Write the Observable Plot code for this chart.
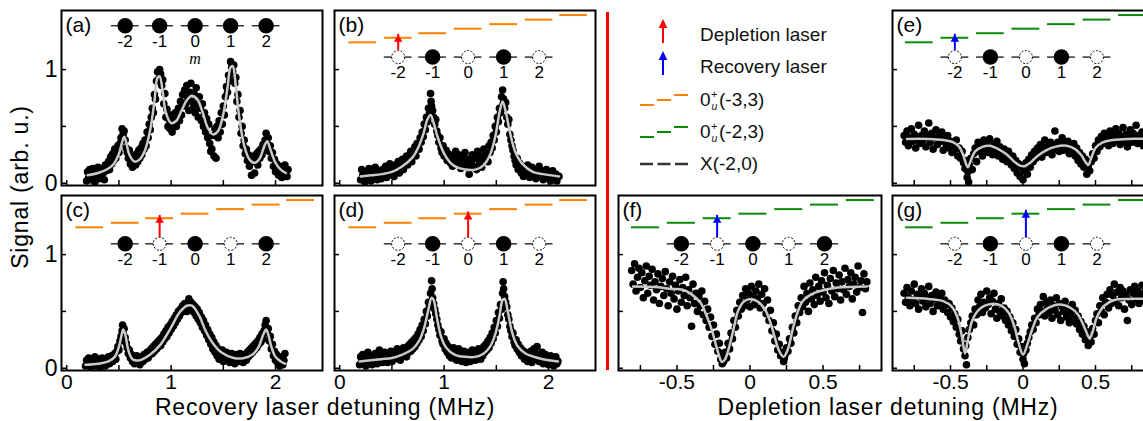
<!DOCTYPE html>
<html><head><meta charset="utf-8">
<script src="https://cdn.jsdelivr.net/npm/d3@7"></script>
<script src="https://cdn.jsdelivr.net/npm/@observablehq/plot@0.6"></script>
<style>
body{margin:0;background:#fff;overflow:hidden;font-family:"Liberation Sans",Arial,sans-serif;}
#root{position:relative;width:1143px;height:421px;overflow:hidden;background:#fff;}
.lbl{position:absolute;font-size:23px;line-height:18px;white-space:nowrap;text-align:center;color:#000;letter-spacing:0.8px;}
.leg{position:absolute;font-size:19px;line-height:19px;white-space:nowrap;color:#111;}
.sup{position:absolute;font-size:11px;line-height:11px;color:#111;}
.sub{position:absolute;font-size:10.5px;line-height:10.5px;font-style:italic;color:#111;}
</style></head><body><div id="root"></div>
<script>
// ---------- data ----------
const sublevels = [-2, -1, 0, 1, 2];
const leftSubX = [0.56, 0.89, 1.23, 1.57, 1.91];
const rightSubX = [-0.47, -0.225, 0.02, 0.265, 0.51];
const leftLevelX = [0.22, 0.56, 0.89, 1.23, 1.57, 1.91, 2.24];
const rightLevelX = [-0.715, -0.47, -0.225, 0.02, 0.265, 0.51, 0.755];
const levelY = [1.24, 1.28, 1.32, 1.36, 1.40, 1.44, 1.48];
const occA = [1,1,1,1,1], occB = [0,1,0,1,0], occC = [1,0,1,0,1], occD = [0,1,0,1,0];
const occE = [0,1,0,1,0], occF = [1,0,1,0,1], occG = [0,1,0,1,0];
const arrowB = [{m:-2, y1:1.17, y2:1.31}], arrowC = [{m:-1, y1:1.15, y2:1.345}], arrowD = [{m:0, y1:1.15, y2:1.375}];
const arrowE = [{m:-2, y1:1.17, y2:1.31}], arrowF = [{m:-1, y1:1.15, y2:1.345}], arrowG = [{m:0, y1:1.15, y2:1.39}];
const mLabelA = [{text:"m", x:1.23, y:1.095}];
const leftXTicks = [0, 0.5, 1, 1.5, 2], rightXTicks = [-0.75, -0.5, -0.25, 0, 0.25, 0.5, 0.75];
const leftXLabels = [0, 1, 2], rightXLabels = [-0.5, 0, 0.5];
const yTicks = [0, 0.5, 1], yLabels = [0, 1];

const fitA = [[0.20,0.07],[0.30,0.09],[0.40,0.13],[0.45,0.17],[0.50,0.26],[0.53,0.36],[0.55,0.41],[0.57,0.36],[0.60,0.25],[0.65,0.19],[0.70,0.21],[0.75,0.29],[0.80,0.47],[0.84,0.72],[0.87,0.93],[0.89,0.94],[0.92,0.80],[0.95,0.62],[1.00,0.53],[1.05,0.55],[1.10,0.64],[1.15,0.73],[1.20,0.77],[1.25,0.74],[1.30,0.63],[1.35,0.49],[1.40,0.43],[1.45,0.46],[1.50,0.61],[1.54,0.84],[1.57,1.02],[1.59,1.03],[1.62,0.85],[1.65,0.60],[1.70,0.33],[1.75,0.21],[1.80,0.18],[1.85,0.22],[1.89,0.32],[1.92,0.37],[1.95,0.30],[2.00,0.18],[2.05,0.12],[2.10,0.09]];
const fitB = [[0.20,0.06],[0.30,0.07],[0.40,0.08],[0.50,0.10],[0.60,0.15],[0.70,0.23],[0.75,0.31],[0.80,0.43],[0.84,0.56],[0.87,0.60],[0.90,0.53],[0.94,0.40],[1.00,0.26],[1.05,0.19],[1.10,0.15],[1.20,0.12],[1.30,0.12],[1.38,0.16],[1.44,0.25],[1.49,0.41],[1.53,0.62],[1.56,0.72],[1.59,0.63],[1.63,0.45],[1.68,0.28],[1.75,0.17],[1.85,0.10],[1.95,0.08],[2.10,0.06]];
const fitC = [[0.18,0.03],[0.30,0.04],[0.40,0.06],[0.46,0.10],[0.50,0.19],[0.53,0.31],[0.54,0.34],[0.56,0.30],[0.59,0.16],[0.63,0.08],[0.70,0.07],[0.80,0.12],[0.90,0.21],[1.00,0.36],[1.08,0.49],[1.15,0.55],[1.20,0.55],[1.27,0.46],[1.33,0.33],[1.40,0.22],[1.48,0.14],[1.60,0.09],[1.70,0.09],[1.78,0.12],[1.84,0.19],[1.88,0.29],[1.91,0.34],[1.93,0.30],[1.96,0.19],[2.00,0.10],[2.05,0.06],[2.09,0.04]];
const fitD = [[0.19,0.06],[0.30,0.07],[0.40,0.08],[0.50,0.09],[0.60,0.12],[0.70,0.17],[0.76,0.24],[0.81,0.36],[0.85,0.52],[0.88,0.62],[0.90,0.60],[0.93,0.45],[0.97,0.28],[1.02,0.18],[1.10,0.12],[1.20,0.10],[1.30,0.10],[1.38,0.13],[1.44,0.19],[1.49,0.30],[1.53,0.46],[1.56,0.60],[1.58,0.61],[1.61,0.50],[1.65,0.32],[1.70,0.20],[1.78,0.13],[1.90,0.09],[2.00,0.07],[2.09,0.06]];
const fitE = [[-0.80,0.39],[-0.65,0.39],[-0.55,0.38],[-0.48,0.36],[-0.44,0.32],[-0.41,0.24],[-0.39,0.16],[-0.38,0.14],[-0.36,0.20],[-0.33,0.28],[-0.28,0.32],[-0.23,0.33],[-0.17,0.30],[-0.11,0.25],[-0.06,0.19],[-0.02,0.155],[0.01,0.15],[0.05,0.18],[0.10,0.24],[0.16,0.29],[0.22,0.32],[0.30,0.33],[0.36,0.30],[0.40,0.25],[0.43,0.19],[0.45,0.16],[0.47,0.22],[0.50,0.31],[0.55,0.36],[0.62,0.38],[0.72,0.39],[0.85,0.39]];
const fitF = [[-0.80,0.72],[-0.65,0.715],[-0.55,0.70],[-0.46,0.69],[-0.40,0.65],[-0.34,0.58],[-0.30,0.47],[-0.26,0.33],[-0.23,0.19],[-0.20,0.07],[-0.19,0.055],[-0.17,0.08],[-0.14,0.20],[-0.11,0.36],[-0.08,0.51],[-0.04,0.59],[0.01,0.61],[0.06,0.58],[0.11,0.50],[0.14,0.40],[0.17,0.27],[0.20,0.15],[0.23,0.10],[0.26,0.17],[0.29,0.33],[0.32,0.47],[0.36,0.59],[0.42,0.65],[0.48,0.68],[0.60,0.71],[0.80,0.72]];
const fitG = [[-0.80,0.62],[-0.65,0.61],[-0.55,0.59],[-0.49,0.54],[-0.45,0.44],[-0.42,0.27],[-0.40,0.13],[-0.38,0.25],[-0.35,0.42],[-0.30,0.52],[-0.22,0.565],[-0.15,0.55],[-0.10,0.49],[-0.06,0.37],[-0.03,0.22],[0.00,0.12],[0.03,0.21],[0.06,0.33],[0.10,0.45],[0.16,0.52],[0.25,0.56],[0.33,0.53],[0.38,0.47],[0.42,0.37],[0.45,0.28],[0.46,0.26],[0.48,0.32],[0.51,0.45],[0.56,0.55],[0.63,0.60],[0.72,0.61],[0.85,0.61]];

const ptsA = [[0.19,0.02],[0.20,0.10],[0.21,0.05],[0.22,0.12],[0.23,0.03],[0.24,0.08],[0.25,0.13],[0.26,0.06],[0.27,0.01],[0.28,0.11],[0.29,0.07],[0.30,0.14],[0.31,0.04],[0.32,0.10],[0.33,0.06],[0.34,0.13],[0.35,0.09],[0.36,0.03],[0.37,0.16],[0.38,0.11],[0.39,0.14],[0.40,0.19],[0.41,0.12],[0.42,0.23],[0.43,0.17],[0.44,0.26],[0.45,0.20],[0.46,0.30],[0.47,0.22],[0.48,0.28],[0.49,0.33],[0.50,0.27],[0.51,0.35],[0.52,0.40],[0.53,0.48],[0.54,0.43],[0.55,0.46],[0.56,0.38],[0.57,0.31],[0.58,0.27],[0.59,0.22],[0.60,0.29],[0.61,0.17],[0.62,0.24],[0.63,0.14],[0.64,0.20],[0.65,0.23],[0.66,0.16],[0.67,0.26],[0.68,0.19],[0.69,0.29],[0.70,0.22],[0.71,0.31],[0.72,0.25],[0.73,0.35],[0.74,0.30],[0.75,0.38],[0.76,0.33],[0.77,0.45],[0.78,0.40],[0.79,0.52],[0.80,0.47],[0.81,0.58],[0.82,0.66],[0.83,0.62],[0.84,0.78],[0.85,0.74],[0.86,0.90],[0.87,0.98],[0.88,0.92],[0.89,1.00],[0.90,0.96],[0.91,0.86],[0.92,0.91],[0.93,0.70],[0.94,0.79],[0.95,0.58],[0.96,0.65],[0.97,0.50],[0.98,0.56],[0.99,0.48],[1.00,0.60],[1.01,0.45],[1.02,0.53],[1.03,0.58],[1.04,0.62],[1.05,0.50],[1.06,0.57],[1.07,0.66],[1.08,0.55],[1.09,0.72],[1.10,0.60],[1.11,0.78],[1.12,0.68],[1.13,0.82],[1.14,0.70],[1.15,0.86],[1.16,0.75],[1.17,0.64],[1.18,0.80],[1.19,0.88],[1.20,0.72],[1.21,0.66],[1.22,0.79],[1.23,0.62],[1.24,0.84],[1.25,0.70],[1.26,0.58],[1.27,0.76],[1.28,0.66],[1.29,0.55],[1.30,0.70],[1.31,0.50],[1.32,0.62],[1.33,0.45],[1.34,0.57],[1.35,0.40],[1.36,0.52],[1.37,0.35],[1.38,0.28],[1.39,0.30],[1.40,0.42],[1.41,0.24],[1.42,0.48],[1.43,0.22],[1.44,0.50],[1.45,0.40],[1.46,0.55],[1.47,0.45],[1.48,0.62],[1.49,0.52],[1.50,0.68],[1.51,0.60],[1.52,0.76],[1.53,0.85],[1.54,0.80],[1.55,0.95],[1.56,0.90],[1.57,1.07],[1.58,1.02],[1.59,0.98],[1.60,1.04],[1.61,0.88],[1.62,0.93],[1.63,0.72],[1.64,0.78],[1.65,0.58],[1.66,0.64],[1.67,0.44],[1.68,0.50],[1.69,0.33],[1.70,0.38],[1.71,0.26],[1.72,0.30],[1.73,0.20],[1.74,0.25],[1.75,0.15],[1.76,0.22],[1.77,0.07],[1.78,0.19],[1.79,0.24],[1.80,0.09],[1.81,0.21],[1.82,0.26],[1.83,0.16],[1.84,0.28],[1.85,0.22],[1.86,0.30],[1.87,0.25],[1.88,0.34],[1.89,0.29],[1.90,0.38],[1.91,0.44],[1.92,0.35],[1.93,0.40],[1.94,0.28],[1.95,0.33],[1.96,0.22],[1.97,0.27],[1.98,0.15],[1.99,0.21],[2.00,0.10],[2.01,0.17],[2.02,0.12],[2.03,0.07],[2.04,0.15],[2.05,0.10],[2.06,0.05],[2.07,0.13],[2.08,0.08],[2.09,0.16],[2.10,0.10],[2.11,0.06],[2.12,0.12]];
const ptsB = [[0.20,0.03],[0.21,0.12],[0.22,0.07],[0.24,0.01],[0.25,0.10],[0.26,0.04],[0.28,0.13],[0.29,0.06],[0.30,0.02],[0.32,0.09],[0.33,0.05],[0.34,0.14],[0.36,0.03],[0.37,0.08],[0.38,0.11],[0.40,0.04],[0.41,0.12],[0.42,0.07],[0.44,0.15],[0.45,0.05],[0.46,0.10],[0.48,0.17],[0.49,0.08],[0.50,0.13],[0.52,0.06],[0.53,0.16],[0.54,0.11],[0.56,0.19],[0.57,0.09],[0.58,0.14],[0.60,0.21],[0.61,0.12],[0.62,0.18],[0.64,0.24],[0.65,0.16],[0.66,0.22],[0.68,0.28],[0.69,0.19],[0.70,0.26],[0.72,0.32],[0.73,0.24],[0.74,0.35],[0.76,0.30],[0.77,0.40],[0.78,0.36],[0.79,0.45],[0.80,0.41],[0.81,0.52],[0.82,0.47],[0.83,0.58],[0.84,0.54],[0.85,0.66],[0.86,0.62],[0.87,0.79],[0.875,0.72],[0.88,0.68],[0.89,0.64],[0.90,0.58],[0.91,0.52],[0.92,0.56],[0.93,0.46],[0.94,0.42],[0.95,0.36],[0.96,0.40],[0.97,0.31],[0.98,0.27],[0.99,0.33],[1.00,0.24],[1.02,0.29],[1.03,0.20],[1.04,0.26],[1.06,0.18],[1.07,0.24],[1.08,0.15],[1.10,0.22],[1.11,0.28],[1.12,0.17],[1.14,0.25],[1.15,0.19],[1.16,0.13],[1.18,0.23],[1.19,0.17],[1.20,0.27],[1.22,0.14],[1.23,0.21],[1.24,0.08],[1.26,0.19],[1.27,0.25],[1.28,0.15],[1.30,0.22],[1.31,0.12],[1.32,0.28],[1.34,0.18],[1.35,0.24],[1.36,0.14],[1.38,0.30],[1.39,0.21],[1.40,0.26],[1.42,0.19],[1.43,0.33],[1.44,0.27],[1.45,0.36],[1.46,0.31],[1.47,0.42],[1.48,0.38],[1.49,0.50],[1.50,0.45],[1.51,0.58],[1.52,0.54],[1.53,0.66],[1.54,0.62],[1.55,0.76],[1.56,0.82],[1.565,0.70],[1.57,0.74],[1.58,0.66],[1.59,0.71],[1.60,0.58],[1.61,0.52],[1.62,0.56],[1.63,0.43],[1.64,0.38],[1.65,0.33],[1.66,0.29],[1.67,0.24],[1.68,0.20],[1.69,0.16],[1.70,0.22],[1.71,0.12],[1.72,0.18],[1.74,0.09],[1.75,0.15],[1.76,0.06],[1.78,0.13],[1.79,0.08],[1.80,0.16],[1.82,0.05],[1.83,0.11],[1.84,0.14],[1.86,0.07],[1.87,0.12],[1.88,0.04],[1.90,0.10],[1.91,0.15],[1.92,0.06],[1.94,0.11],[1.95,0.03],[1.96,0.08],[1.98,0.12],[1.99,0.05],[2.00,0.09],[2.02,0.02],[2.03,0.07],[2.04,0.11],[2.06,0.04],[2.07,0.08],[2.08,0.02],[2.10,0.06]];
const ptsC = [[0.18,0.02],[0.19,0.07],[0.20,0.04],[0.21,0.09],[0.22,0.05],[0.23,0.01],[0.24,0.08],[0.25,0.03],[0.26,0.06],[0.27,0.10],[0.28,0.02],[0.29,0.07],[0.30,0.04],[0.31,0.08],[0.32,0.01],[0.33,0.05],[0.34,0.09],[0.35,0.03],[0.36,0.06],[0.37,0.02],[0.38,0.08],[0.39,0.05],[0.40,0.10],[0.41,0.04],[0.42,0.07],[0.43,0.11],[0.44,0.06],[0.45,0.09],[0.46,0.13],[0.47,0.08],[0.48,0.15],[0.49,0.19],[0.50,0.16],[0.51,0.24],[0.52,0.28],[0.53,0.33],[0.535,0.38],[0.54,0.30],[0.55,0.35],[0.56,0.27],[0.57,0.22],[0.58,0.18],[0.59,0.13],[0.60,0.16],[0.61,0.09],[0.62,0.12],[0.63,0.06],[0.64,0.10],[0.65,0.04],[0.66,0.08],[0.67,0.11],[0.68,0.05],[0.69,0.09],[0.70,0.03],[0.71,0.07],[0.72,0.10],[0.73,0.06],[0.74,0.12],[0.75,0.08],[0.76,0.11],[0.77,0.14],[0.78,0.09],[0.79,0.15],[0.80,0.12],[0.81,0.17],[0.82,0.13],[0.83,0.19],[0.84,0.15],[0.85,0.21],[0.86,0.17],[0.87,0.23],[0.88,0.19],[0.89,0.25],[0.90,0.20],[0.91,0.27],[0.92,0.23],[0.93,0.30],[0.94,0.26],[0.95,0.33],[0.96,0.28],[0.97,0.36],[0.98,0.31],[0.99,0.38],[1.00,0.34],[1.01,0.41],[1.02,0.37],[1.03,0.44],[1.04,0.40],[1.05,0.47],[1.06,0.43],[1.07,0.50],[1.08,0.46],[1.09,0.52],[1.10,0.49],[1.11,0.55],[1.12,0.51],[1.13,0.57],[1.14,0.53],[1.15,0.50],[1.16,0.56],[1.17,0.61],[1.18,0.54],[1.19,0.58],[1.20,0.51],[1.21,0.56],[1.22,0.49],[1.23,0.54],[1.24,0.46],[1.25,0.52],[1.26,0.43],[1.27,0.49],[1.28,0.40],[1.29,0.45],[1.30,0.36],[1.31,0.42],[1.32,0.33],[1.33,0.38],[1.34,0.29],[1.35,0.34],[1.36,0.25],[1.37,0.30],[1.38,0.21],[1.39,0.27],[1.40,0.17],[1.41,0.23],[1.42,0.14],[1.43,0.20],[1.44,0.11],[1.45,0.17],[1.46,0.08],[1.47,0.14],[1.48,0.10],[1.49,0.16],[1.50,0.06],[1.51,0.12],[1.52,0.09],[1.53,0.14],[1.54,0.07],[1.55,0.11],[1.56,0.05],[1.57,0.10],[1.58,0.13],[1.59,0.07],[1.60,0.11],[1.61,0.04],[1.62,0.09],[1.63,0.12],[1.64,0.06],[1.65,0.10],[1.66,0.13],[1.67,0.07],[1.68,0.11],[1.69,0.05],[1.70,0.09],[1.71,0.12],[1.72,0.07],[1.73,0.14],[1.74,0.10],[1.75,0.16],[1.76,0.12],[1.77,0.18],[1.78,0.14],[1.79,0.20],[1.80,0.16],[1.81,0.22],[1.82,0.18],[1.83,0.24],[1.84,0.21],[1.85,0.27],[1.86,0.23],[1.87,0.30],[1.88,0.26],[1.89,0.33],[1.90,0.38],[1.91,0.42],[1.92,0.31],[1.93,0.35],[1.94,0.24],[1.95,0.28],[1.96,0.17],[1.97,0.21],[1.98,0.11],[1.99,0.15],[2.00,0.07],[2.01,0.12],[2.02,0.05],[2.03,0.09],[2.04,0.02],[2.05,0.06],[2.06,0.10],[2.07,0.03],[2.08,0.07],[2.09,0.13]];
const ptsD = [[0.19,0.03],[0.20,0.10],[0.21,0.06],[0.22,0.12],[0.23,0.04],[0.24,0.08],[0.25,0.02],[0.26,0.09],[0.27,0.14],[0.28,0.05],[0.29,0.11],[0.30,0.07],[0.31,0.03],[0.32,0.10],[0.33,0.06],[0.34,0.13],[0.35,0.08],[0.36,0.04],[0.37,0.11],[0.38,0.16],[0.39,0.07],[0.40,0.12],[0.41,0.05],[0.42,0.09],[0.43,0.14],[0.44,0.08],[0.45,0.11],[0.46,0.05],[0.47,0.13],[0.48,0.09],[0.49,0.15],[0.50,0.06],[0.51,0.12],[0.52,0.08],[0.53,0.14],[0.54,0.10],[0.55,0.17],[0.56,0.09],[0.57,0.13],[0.58,0.07],[0.59,0.15],[0.60,0.11],[0.61,0.18],[0.62,0.12],[0.63,0.16],[0.64,0.10],[0.65,0.19],[0.66,0.14],[0.67,0.21],[0.68,0.15],[0.69,0.23],[0.70,0.17],[0.71,0.25],[0.72,0.19],[0.73,0.27],[0.74,0.22],[0.75,0.30],[0.76,0.25],[0.77,0.34],[0.78,0.28],[0.79,0.38],[0.80,0.33],[0.81,0.43],[0.82,0.39],[0.83,0.50],[0.84,0.46],[0.85,0.58],[0.86,0.54],[0.87,0.66],[0.88,0.77],[0.885,0.70],[0.89,0.62],[0.90,0.57],[0.91,0.52],[0.92,0.48],[0.93,0.43],[0.94,0.38],[0.95,0.34],[0.96,0.29],[0.97,0.32],[0.98,0.24],[0.99,0.21],[1.00,0.26],[1.01,0.17],[1.02,0.22],[1.03,0.14],[1.04,0.19],[1.05,0.11],[1.06,0.16],[1.07,0.09],[1.08,0.14],[1.09,0.18],[1.10,0.10],[1.11,0.15],[1.12,0.07],[1.13,0.12],[1.14,0.17],[1.15,0.08],[1.16,0.13],[1.17,0.06],[1.18,0.11],[1.19,0.15],[1.20,0.09],[1.21,0.05],[1.22,0.12],[1.23,0.08],[1.24,0.14],[1.25,0.06],[1.26,0.11],[1.27,0.16],[1.28,0.09],[1.29,0.13],[1.30,0.07],[1.31,0.15],[1.32,0.10],[1.33,0.17],[1.34,0.12],[1.35,0.08],[1.36,0.16],[1.37,0.11],[1.38,0.19],[1.39,0.14],[1.40,0.21],[1.41,0.16],[1.42,0.24],[1.43,0.18],[1.44,0.27],[1.45,0.22],[1.46,0.31],[1.47,0.26],[1.48,0.36],[1.49,0.31],[1.50,0.42],[1.51,0.37],[1.52,0.49],[1.53,0.44],[1.54,0.56],[1.55,0.52],[1.56,0.66],[1.565,0.76],[1.57,0.70],[1.58,0.63],[1.59,0.58],[1.60,0.54],[1.61,0.47],[1.62,0.43],[1.63,0.37],[1.64,0.33],[1.65,0.28],[1.66,0.31],[1.67,0.23],[1.68,0.20],[1.69,0.25],[1.70,0.17],[1.71,0.21],[1.72,0.14],[1.73,0.18],[1.74,0.11],[1.75,0.16],[1.76,0.12],[1.77,0.08],[1.78,0.14],[1.79,0.10],[1.80,0.06],[1.81,0.13],[1.82,0.09],[1.83,0.15],[1.84,0.05],[1.85,0.11],[1.86,0.17],[1.87,0.08],[1.88,0.13],[1.89,0.19],[1.90,0.10],[1.91,0.06],[1.92,0.12],[1.93,0.08],[1.94,0.14],[1.95,0.04],[1.96,0.09],[1.97,0.12],[1.98,0.06],[1.99,0.10],[2.00,0.03],[2.01,0.08],[2.02,0.11],[2.03,0.05],[2.04,0.09],[2.05,0.02],[2.06,0.07],[2.07,0.10],[2.08,0.04],[2.09,0.06]];
const ptsE = [[-0.82,0.42],[-0.81,0.36],[-0.80,0.46],[-0.79,0.33],[-0.78,0.40],[-0.77,0.48],[-0.76,0.37],[-0.75,0.43],[-0.74,0.31],[-0.73,0.39],[-0.72,0.51],[-0.71,0.35],[-0.70,0.42],[-0.69,0.38],[-0.68,0.46],[-0.67,0.32],[-0.66,0.41],[-0.65,0.53],[-0.64,0.36],[-0.63,0.44],[-0.62,0.30],[-0.61,0.40],[-0.60,0.47],[-0.59,0.34],[-0.58,0.42],[-0.57,0.37],[-0.56,0.45],[-0.55,0.29],[-0.54,0.39],[-0.53,0.34],[-0.52,0.42],[-0.51,0.31],[-0.50,0.37],[-0.49,0.27],[-0.48,0.35],[-0.47,0.30],[-0.46,0.38],[-0.45,0.24],[-0.44,0.31],[-0.43,0.22],[-0.42,0.28],[-0.41,0.18],[-0.40,0.13],[-0.39,0.20],[-0.385,0.05],[-0.38,0.10],[-0.375,0.01],[-0.37,0.16],[-0.36,0.22],[-0.35,0.12],[-0.34,0.26],[-0.33,0.31],[-0.32,0.19],[-0.31,0.36],[-0.30,0.28],[-0.29,0.33],[-0.28,0.24],[-0.27,0.38],[-0.26,0.30],[-0.25,0.35],[-0.24,0.27],[-0.23,0.39],[-0.22,0.31],[-0.21,0.25],[-0.20,0.34],[-0.19,0.29],[-0.18,0.37],[-0.17,0.24],[-0.16,0.32],[-0.15,0.27],[-0.14,0.21],[-0.13,0.30],[-0.12,0.25],[-0.11,0.19],[-0.10,0.28],[-0.09,0.22],[-0.08,0.16],[-0.07,0.24],[-0.06,0.13],[-0.05,0.20],[-0.04,0.09],[-0.03,0.17],[-0.02,0.06],[-0.01,0.14],[0.00,0.03],[0.01,0.11],[0.02,0.18],[0.03,0.08],[0.04,0.21],[0.05,0.14],[0.06,0.25],[0.07,0.19],[0.08,0.28],[0.09,0.22],[0.10,0.31],[0.11,0.26],[0.12,0.34],[0.13,0.23],[0.14,0.30],[0.15,0.38],[0.16,0.27],[0.17,0.33],[0.18,0.29],[0.19,0.36],[0.20,0.25],[0.21,0.32],[0.22,0.46],[0.23,0.30],[0.24,0.36],[0.25,0.28],[0.26,0.34],[0.27,0.40],[0.28,0.29],[0.29,0.35],[0.30,0.31],[0.31,0.37],[0.32,0.26],[0.33,0.33],[0.34,0.28],[0.35,0.35],[0.36,0.24],[0.37,0.31],[0.38,0.20],[0.39,0.27],[0.40,0.17],[0.41,0.24],[0.42,0.14],[0.43,0.21],[0.44,0.08],[0.45,0.15],[0.46,0.11],[0.47,0.19],[0.48,0.26],[0.49,0.22],[0.50,0.33],[0.51,0.28],[0.52,0.38],[0.53,0.32],[0.54,0.41],[0.55,0.35],[0.56,0.44],[0.57,0.37],[0.58,0.42],[0.59,0.33],[0.60,0.46],[0.61,0.39],[0.62,0.35],[0.63,0.43],[0.64,0.48],[0.65,0.38],[0.66,0.44],[0.67,0.34],[0.68,0.41],[0.69,0.49],[0.70,0.37],[0.71,0.43],[0.72,0.32],[0.73,0.40],[0.74,0.47],[0.75,0.36],[0.76,0.44],[0.77,0.39],[0.78,0.51],[0.79,0.35],[0.80,0.42],[0.81,0.38],[0.82,0.45],[0.83,0.33],[0.84,0.41],[0.85,0.47]];
const ptsF = [[-0.81,0.86],[-0.80,0.74],[-0.79,0.92],[-0.78,0.68],[-0.77,0.80],[-0.76,0.88],[-0.75,0.71],[-0.74,0.84],[-0.73,0.62],[-0.72,0.77],[-0.71,0.90],[-0.70,0.66],[-0.69,0.81],[-0.68,0.73],[-0.67,0.87],[-0.66,0.60],[-0.65,0.76],[-0.64,0.69],[-0.63,0.83],[-0.62,0.57],[-0.61,0.72],[-0.60,0.79],[-0.59,0.64],[-0.58,0.85],[-0.57,0.70],[-0.56,0.55],[-0.55,0.76],[-0.54,0.66],[-0.53,0.81],[-0.52,0.61],[-0.51,0.73],[-0.50,0.52],[-0.49,0.68],[-0.48,0.78],[-0.47,0.58],[-0.46,0.71],[-0.45,0.64],[-0.44,0.80],[-0.43,0.55],[-0.42,0.69],[-0.41,0.62],[-0.40,0.37],[-0.39,0.74],[-0.38,0.57],[-0.37,0.66],[-0.36,0.50],[-0.35,0.63],[-0.34,0.55],[-0.33,0.68],[-0.32,0.47],[-0.31,0.59],[-0.30,0.42],[-0.29,0.52],[-0.28,0.36],[-0.27,0.45],[-0.26,0.28],[-0.25,0.38],[-0.24,0.21],[-0.23,0.30],[-0.22,0.15],[-0.21,0.22],[-0.20,0.08],[-0.195,0.13],[-0.19,0.04],[-0.185,0.10],[-0.18,0.06],[-0.17,0.14],[-0.16,0.09],[-0.15,0.22],[-0.14,0.17],[-0.13,0.31],[-0.12,0.26],[-0.11,0.42],[-0.10,0.36],[-0.09,0.51],[-0.08,0.46],[-0.07,0.58],[-0.06,0.52],[-0.05,0.64],[-0.04,0.55],[-0.03,0.70],[-0.02,0.60],[-0.01,0.66],[0.00,0.54],[0.01,0.72],[0.02,0.63],[0.03,0.56],[0.04,0.68],[0.05,0.61],[0.06,0.74],[0.07,0.53],[0.08,0.65],[0.09,0.57],[0.10,0.70],[0.11,0.48],[0.12,0.60],[0.13,0.42],[0.14,0.51],[0.15,0.33],[0.16,0.40],[0.17,0.24],[0.18,0.30],[0.19,0.16],[0.20,0.21],[0.21,0.11],[0.22,0.14],[0.23,0.06],[0.235,0.09],[0.24,0.12],[0.25,0.18],[0.26,0.15],[0.27,0.26],[0.28,0.22],[0.29,0.36],[0.30,0.31],[0.31,0.46],[0.32,0.40],[0.33,0.55],[0.34,0.49],[0.35,0.62],[0.36,0.54],[0.37,0.72],[0.38,0.58],[0.39,0.66],[0.40,0.50],[0.41,0.75],[0.42,0.61],[0.43,0.69],[0.44,0.56],[0.45,0.80],[0.46,0.64],[0.47,0.72],[0.48,0.59],[0.49,0.77],[0.50,0.67],[0.51,0.84],[0.52,0.62],[0.53,0.73],[0.54,0.57],[0.55,0.79],[0.56,0.68],[0.57,0.86],[0.58,0.63],[0.59,0.75],[0.60,0.70],[0.61,0.82],[0.62,0.60],[0.63,0.76],[0.64,0.69],[0.65,0.88],[0.66,0.65],[0.67,0.78],[0.68,0.72],[0.69,0.84],[0.70,0.61],[0.71,0.74],[0.72,0.80],[0.73,0.67],[0.74,0.90],[0.75,0.71],[0.76,0.77],[0.77,0.49],[0.78,0.83],[0.79,0.70],[0.80,0.76]];
const ptsG = [[-0.82,0.66],[-0.81,0.58],[-0.80,0.71],[-0.79,0.62],[-0.78,0.55],[-0.77,0.68],[-0.76,0.60],[-0.75,0.74],[-0.74,0.57],[-0.73,0.65],[-0.72,0.52],[-0.71,0.63],[-0.70,0.70],[-0.69,0.59],[-0.68,0.66],[-0.67,0.54],[-0.66,0.62],[-0.65,0.72],[-0.64,0.57],[-0.63,0.64],[-0.62,0.50],[-0.61,0.61],[-0.60,0.67],[-0.59,0.55],[-0.58,0.63],[-0.57,0.58],[-0.56,0.66],[-0.55,0.52],[-0.54,0.60],[-0.53,0.56],[-0.52,0.49],[-0.51,0.57],[-0.50,0.45],[-0.49,0.53],[-0.48,0.41],[-0.47,0.48],[-0.46,0.36],[-0.45,0.43],[-0.44,0.30],[-0.43,0.24],[-0.42,0.33],[-0.41,0.17],[-0.40,0.11],[-0.395,0.20],[-0.39,0.03],[-0.38,0.27],[-0.37,0.34],[-0.36,0.40],[-0.35,0.46],[-0.34,0.38],[-0.33,0.52],[-0.32,0.47],[-0.31,0.60],[-0.30,0.54],[-0.29,0.65],[-0.28,0.49],[-0.27,0.58],[-0.26,0.53],[-0.25,0.68],[-0.24,0.56],[-0.23,0.62],[-0.22,0.48],[-0.21,0.59],[-0.20,0.66],[-0.19,0.52],[-0.18,0.44],[-0.17,0.57],[-0.16,0.50],[-0.15,0.61],[-0.14,0.46],[-0.13,0.53],[-0.12,0.42],[-0.11,0.50],[-0.10,0.38],[-0.09,0.45],[-0.08,0.33],[-0.07,0.40],[-0.06,0.28],[-0.05,0.34],[-0.04,0.21],[-0.03,0.26],[-0.02,0.14],[-0.01,0.19],[0.00,0.08],[0.005,0.13],[0.01,0.04],[0.02,0.16],[0.03,0.22],[0.04,0.27],[0.05,0.32],[0.06,0.38],[0.07,0.34],[0.08,0.44],[0.09,0.40],[0.10,0.52],[0.11,0.47],[0.12,0.56],[0.13,0.50],[0.14,0.63],[0.15,0.46],[0.16,0.58],[0.17,0.53],[0.18,0.49],[0.19,0.60],[0.20,0.44],[0.21,0.55],[0.22,0.51],[0.23,0.62],[0.24,0.47],[0.25,0.57],[0.26,0.42],[0.27,0.54],[0.28,0.50],[0.29,0.59],[0.30,0.45],[0.31,0.53],[0.32,0.40],[0.33,0.49],[0.34,0.56],[0.35,0.44],[0.36,0.51],[0.37,0.39],[0.38,0.46],[0.39,0.34],[0.40,0.41],[0.41,0.30],[0.42,0.37],[0.43,0.25],[0.44,0.32],[0.45,0.20],[0.46,0.27],[0.47,0.23],[0.48,0.35],[0.49,0.30],[0.50,0.42],[0.51,0.48],[0.52,0.40],[0.53,0.55],[0.54,0.50],[0.55,0.62],[0.56,0.47],[0.57,0.58],[0.58,0.65],[0.59,0.53],[0.60,0.69],[0.61,0.57],[0.62,0.64],[0.63,0.74],[0.64,0.59],[0.65,0.67],[0.66,0.55],[0.67,0.71],[0.68,0.62],[0.69,0.68],[0.70,0.52],[0.71,0.64],[0.72,0.42],[0.73,0.60],[0.74,0.69],[0.75,0.56],[0.76,0.66],[0.77,0.72],[0.78,0.61],[0.79,0.68],[0.80,0.57],[0.81,0.65],[0.82,0.73],[0.83,0.60],[0.84,0.67],[0.85,0.63]];

// ---------- layout ----------
const ORANGE = "#ff8000", GREEN = "#0a8a0a", RED = "#ff0000", BLUE = "#0000ff";
const FONT = "'Liberation Sans', Arial, sans-serif";
const panels = [
  {label:"(a)", box:[61,322,10,185], side:"L", pts:ptsA, fit:fitA, occ:occA, levels:null, arrow:null, xl:false, yl:true, subY:1.386, labY:1.25},
  {label:"(b)", box:[334,595,10,185], side:"L", pts:ptsB, fit:fitB, occ:occB, levels:ORANGE, arrow:arrowB, arrowColor:RED, xl:false, yl:false, subY:1.11, labY:0.975},
  {label:"(c)", box:[61,322,195,370], side:"L", pts:ptsC, fit:fitC, occ:occC, levels:ORANGE, arrow:arrowC, arrowColor:RED, xl:true, yl:true, subY:1.095, labY:0.955},
  {label:"(d)", box:[334,595,195,370], side:"L", pts:ptsD, fit:fitD, occ:occD, levels:ORANGE, arrow:arrowD, arrowColor:RED, xl:true, yl:false, subY:1.095, labY:0.955},
  {label:"(e)", box:[892,1153,10,185], side:"R", pts:ptsE, fit:fitE, occ:occE, levels:GREEN, arrow:arrowE, arrowColor:BLUE, xl:false, yl:false, subY:1.11, labY:0.975},
  {label:"(f)", box:[618,881,195,370], side:"R", pts:ptsF, fit:fitF, occ:occF, levels:GREEN, arrow:arrowF, arrowColor:BLUE, xl:true, yl:false, subY:1.095, labY:0.955},
  {label:"(g)", box:[892,1153,195,370], side:"R", pts:ptsG, fit:fitG, occ:occG, levels:GREEN, arrow:arrowG, arrowColor:BLUE, xl:true, yl:false, subY:1.095, labY:0.955}
];

function makePanel(p) {
  const L = p.side === "L";
  const [x0, x1, y0, y1] = p.box;
  const W = x1 > 1143 ? 1170 : 1143, H = 421;
  const pw = x1 - x0, ph = y1 - y0;
  const subX = L ? leftSubX : rightSubX;
  const lvlX = L ? leftLevelX : rightLevelX;
  const hw = L ? 0.133 : 0.096;
  const subs = sublevels.map((m, i) => ({m, x: subX[i], occ: p.occ[i]}));
  const marks = [
    Plot.tickX(L ? leftXTicks : rightXTicks, {x: d => d, insetTop: ph - 5, stroke: "#000", strokeWidth: 1.5}),
    Plot.tickY(yTicks, {y: d => d, insetRight: pw - 5, stroke: "#000", strokeWidth: 1.5}),
    Plot.dot(p.pts, {x: d => d[0], y: d => d[1], r: 3.8, fill: "#000", stroke: "none"}),
    Plot.line(p.fit, {x: d => d[0], y: d => d[1], stroke: "#c9c9c9", strokeWidth: 2.5, curve: "catmull-rom"}),
    Plot.ruleY(subs, {y: () => p.subY, x1: d => d.x - hw, x2: d => d.x + hw, stroke: "#333", strokeWidth: 1.5}),
    Plot.dot(subs.filter(d => d.occ), {x: "x", y: () => p.subY, r: 7, fill: "#000", stroke: "#000"}),
    Plot.dot(subs.filter(d => !d.occ), {x: "x", y: () => p.subY, r: 6.5, fill: "#fff", stroke: "#000", strokeWidth: 1, strokeDasharray: "2,1.6"}),
    Plot.text(subs, {x: "x", y: () => p.labY, text: d => String(d.m), fontSize: 17, fill: "#000"}),
    Plot.text([p.label], {text: d => d, frameAnchor: "top-left", dx: 4, dy: 7, textAnchor: "start", lineAnchor: "top", fontSize: 21, fill: "#000"}),
    Plot.frame({stroke: "#000", strokeWidth: 2})
  ];
  if (p.levels) {
    marks.push(Plot.ruleY(lvlX.map((x, i) => ({x, y: levelY[i]})), {y: "y", x1: d => d.x - hw, x2: d => d.x + hw, stroke: p.levels, strokeWidth: 2}));
  }
  if (p.arrow) {
    const ar = p.arrow.map(a => ({x: subX[a.m + 2], y1: a.y1, y2: a.y2}));
    marks.push(Plot.ruleX(ar, {x: "x", y1: "y1", y2: "y2", stroke: p.arrowColor, strokeWidth: 2}));
    marks.push(Plot.dot(ar, {x: "x", y: "y2", symbol: "triangle", r: 3.2, dy: 5, fill: p.arrowColor, stroke: "none"}));
  }
  if (p.label === "(a)") {
    marks.push(Plot.text(mLabelA, {x: "x", y: "y", text: "text", fontSize: 16, fontStyle: "italic", fontFamily: "'Liberation Serif', 'DejaVu Serif', serif", fill: "#000"}));
  }
  if (p.xl) marks.push(Plot.axisX(L ? leftXLabels : rightXLabels, {tickSize: 0, tickPadding: 4, fontSize: 21, tickFormat: d => String(d), label: null}));
  if (p.yl) marks.push(Plot.axisY(yLabels, {tickSize: 0, tickPadding: 4, fontSize: 23, tickFormat: d => String(d), label: null}));
  return Plot.plot({
    width: W, height: H,
    marginLeft: x0, marginRight: W - x1, marginTop: y0, marginBottom: H - y1,
    x: {domain: L ? [-0.05, 2.45] : [-0.9, 0.9], axis: p.xl ? undefined : null},
    y: {domain: [-0.02, 1.52], axis: p.yl ? undefined : null},
    style: `position:absolute;left:0;top:0;background:transparent;max-width:none;overflow:visible;font-family:${FONT};font-size:22px;color:#000;`,
    marks
  });
}

const root = document.getElementById("root");
panels.forEach(p => root.appendChild(makePanel(p)));

// separator
const sep = document.createElement("div");
sep.style.cssText = "position:absolute;left:606px;top:12px;width:2.5px;height:358px;background:#ff0000;";
root.appendChild(sep);

// legend
const legendRows = [
  {kind:"arrow", color:RED, parts:["Depletion laser"]},
  {kind:"arrow", color:BLUE, parts:["Recovery laser"]},
  {kind:"steps", color:ORANGE, parts:["0", "+", "u", "(-3,3)"]},
  {kind:"steps", color:GREEN, parts:["0", "+", "u", "(-2,3)"]},
  {kind:"dash", color:"#333", parts:["X(-2,0)"]}
];
const legTop = [25, 57, 90, 122, 154];
const ns = "http://www.w3.org/2000/svg";
const lsvg = document.createElementNS(ns, "svg");
lsvg.setAttribute("width", 1143); lsvg.setAttribute("height", 421);
lsvg.style.cssText = "position:absolute;left:0;top:0;";
let sh = "";
function addDiv(cls, text, left, top) {
  const d = document.createElement("div");
  d.className = cls;
  d.style.left = left + "px";
  d.style.top = top + "px";
  d.textContent = text;
  root.appendChild(d);
}
legendRows.forEach((r, i) => {
  const t = legTop[i], cy = t + 10;
  if (r.kind === "arrow") {
    sh += `<line x1="663" y1="${cy+8}" x2="663" y2="${cy-12}" stroke="${r.color}" stroke-width="2"/>`;
    sh += `<path d="M658.7,${cy-7} L663,${cy-16} L667.3,${cy-7} Z" fill="${r.color}"/>`;
  } else if (r.kind === "steps") {
    sh += `<line x1="640" x2="654" y1="${cy+5}" y2="${cy+5}" stroke="${r.color}" stroke-width="2"/>`;
    sh += `<line x1="657" x2="671" y1="${cy}" y2="${cy}" stroke="${r.color}" stroke-width="2"/>`;
    sh += `<line x1="674" x2="688" y1="${cy-5}" y2="${cy-5}" stroke="${r.color}" stroke-width="2"/>`;
  } else {
    sh += `<line x1="640" x2="688" y1="${cy}" y2="${cy}" stroke="${r.color}" stroke-width="2.5" stroke-dasharray="13,4.5"/>`;
  }
  if (r.parts.length === 1) {
    addDiv("leg", r.parts[0], 700, t);
  } else {
    addDiv("leg", r.parts[0], 700, t);
    addDiv("sup", r.parts[1], 711, t - 1);
    addDiv("sub", r.parts[2], 711.5, t + 11);
    addDiv("leg", r.parts[3], 719, t);
  }
});
lsvg.innerHTML = sh;
root.appendChild(lsvg);

// axis titles
const yl = document.createElement("div");
yl.className = "lbl";
yl.style.cssText += "left:-80px;top:178px;width:200px;transform:rotate(-90deg);";
yl.textContent = "Signal (arb. u.)";
root.appendChild(yl);
const xl1 = document.createElement("div");
xl1.className = "lbl";
xl1.style.cssText += "left:125px;top:398px;width:400px;";
xl1.textContent = "Recovery laser detuning (MHz)";
root.appendChild(xl1);
const xl2 = document.createElement("div");
xl2.className = "lbl";
xl2.style.cssText += "left:688px;top:398px;width:400px;";
xl2.textContent = "Depletion laser detuning (MHz)";
root.appendChild(xl2);
</script></body></html>
